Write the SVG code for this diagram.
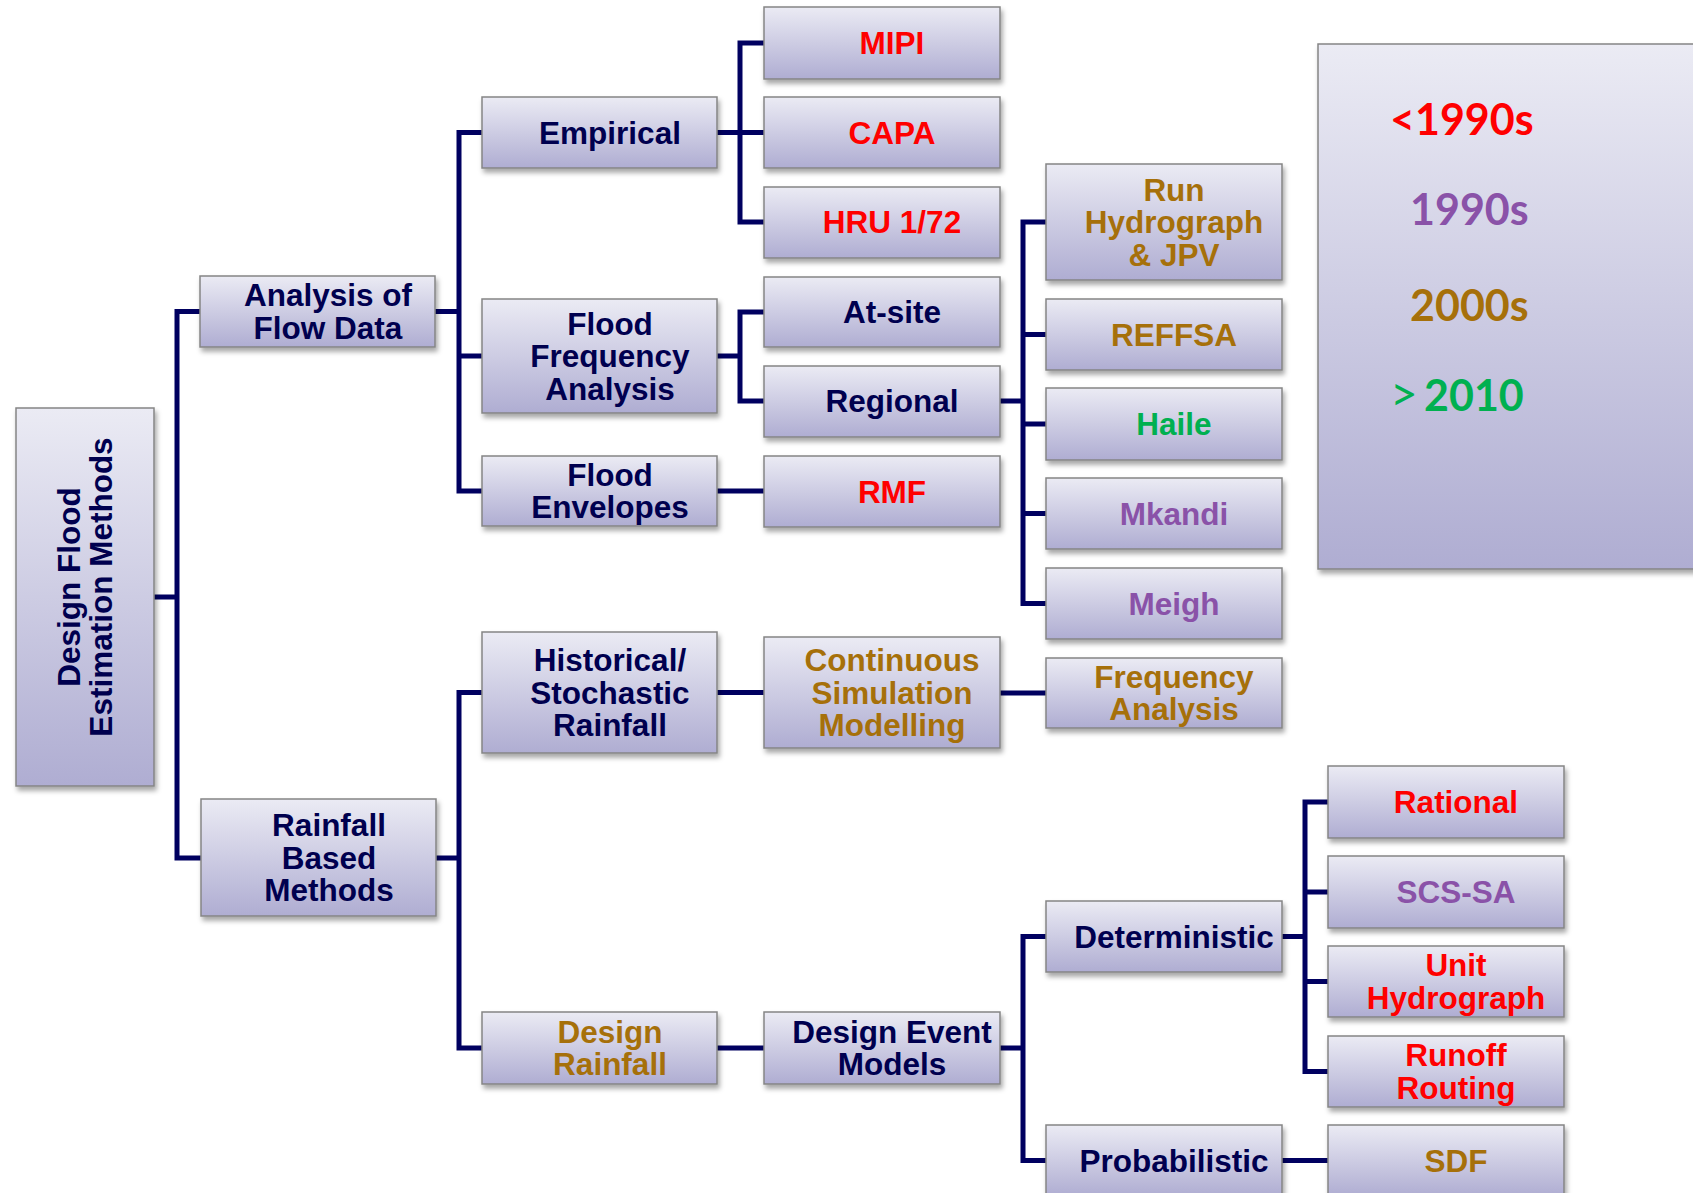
<svg xmlns="http://www.w3.org/2000/svg" width="1693" height="1193" viewBox="0 0 1693 1193">
<defs>
<linearGradient id="g" x1="0" y1="0" x2="0" y2="1">
<stop offset="0" stop-color="#EBEBF4"/>
<stop offset="1" stop-color="#AFADD2"/>
</linearGradient>
<filter id="sh" x="-10%" y="-10%" width="130%" height="140%">
<feDropShadow dx="2" dy="4" stdDeviation="2.5" flood-color="#000" flood-opacity="0.35"/>
</filter>
<style>
.box{fill:url(#g);stroke:#858585;stroke-width:1.5;filter:url(#sh)}
.t{font-family:"Liberation Sans",Arial,sans-serif;font-weight:bold;font-size:31.5px;text-anchor:middle}
.n{fill:#00004F}.r{fill:#FF0000}.o{fill:#A6700A}.gr{fill:#00B050}.p{fill:#8A52A8}
.c{stroke:#000060;stroke-width:5;fill:none;stroke-linejoin:miter}
.lg{font-family:Lato,"Open Sans",sans-serif;font-weight:bold;font-size:43px}
</style>
</defs>
<rect width="1693" height="1193" fill="#FFFFFF"/>
<g id="connectors">
<path class="c" d="M154 597H177M200 311.5H177V858H201"/>
<path class="c" d="M435 311.5H459M482 132.5H459V491H482M459 356H482"/>
<path class="c" d="M436 858H459M482 692.5H459V1048H482"/>
<path class="c" d="M717 132.5H740M764 43H740V222H764M740 132.5H764"/>
<path class="c" d="M717 356H740M764 312H740V401H764"/>
<path class="c" d="M717 491H764"/>
<path class="c" d="M717 692.5H764"/>
<path class="c" d="M717 1048H764"/>
<path class="c" d="M1000 401H1023M1046 222H1023V603.5H1046M1023 334.5H1046M1023 424H1046M1023 513.5H1046"/>
<path class="c" d="M1000 693H1046"/>
<path class="c" d="M1000 1048H1023M1046 936.5H1023V1160.5H1046"/>
<path class="c" d="M1282 936.5H1305M1328 802H1305V1071.5H1328M1305 892H1328M1305 981.5H1328"/>
<path class="c" d="M1282 1160.5H1328"/>
</g>
<g id="dfem"><rect class="box" x="16" y="408" width="138" height="378"/>
<text class="t n" transform="translate(85 587) rotate(-90)"><tspan x="0" y="-5.25">Design Flood</tspan><tspan x="0" y="27.25">Estimation Methods</tspan></text></g>
<g id="analysis"><rect class="box" x="200" y="276" width="235" height="71"/>
<text class="t n"><tspan x="328" y="306.25">Analysis of</tspan><tspan x="328" y="338.75">Flow Data</tspan></text></g>
<g id="rainfall-based"><rect class="box" x="201" y="799" width="235" height="117"/>
<text class="t n"><tspan x="329" y="836">Rainfall</tspan><tspan x="329" y="868.5">Based</tspan><tspan x="329" y="901">Methods</tspan></text></g>
<g id="empirical"><rect class="box" x="482" y="97" width="235" height="71"/>
<text class="t n" x="610" y="143.5">Empirical</text></g>
<g id="ffa"><rect class="box" x="482" y="299" width="235" height="114"/>
<text class="t n"><tspan x="610" y="334.5">Flood</tspan><tspan x="610" y="367">Frequency</tspan><tspan x="610" y="399.5">Analysis</tspan></text></g>
<g id="flood-envelopes"><rect class="box" x="482" y="456" width="235" height="70"/>
<text class="t n"><tspan x="610" y="485.75">Flood</tspan><tspan x="610" y="518.25">Envelopes</tspan></text></g>
<g id="historical"><rect class="box" x="482" y="632" width="235" height="121"/>
<text class="t n"><tspan x="610" y="671">Historical/</tspan><tspan x="610" y="703.5">Stochastic</tspan><tspan x="610" y="736">Rainfall</tspan></text></g>
<g id="design-rainfall"><rect class="box" x="482" y="1012" width="235" height="72"/>
<text class="t o"><tspan x="610" y="1042.75">Design</tspan><tspan x="610" y="1075.25">Rainfall</tspan></text></g>
<g id="mipi"><rect class="box" x="764" y="7" width="236" height="72"/>
<text class="t r" x="892" y="54">MIPI</text></g>
<g id="capa"><rect class="box" x="764" y="97" width="236" height="71"/>
<text class="t r" x="892" y="143.5">CAPA</text></g>
<g id="hru"><rect class="box" x="764" y="187" width="236" height="71"/>
<text class="t r" x="892" y="233">HRU 1/72</text></g>
<g id="at-site"><rect class="box" x="764" y="277" width="236" height="70"/>
<text class="t n" x="892" y="323">At-site</text></g>
<g id="regional"><rect class="box" x="764" y="366" width="236" height="71"/>
<text class="t n" x="892" y="412">Regional</text></g>
<g id="rmf"><rect class="box" x="764" y="456" width="236" height="71"/>
<text class="t r" x="892" y="502.5">RMF</text></g>
<g id="csm"><rect class="box" x="764" y="637" width="236" height="111"/>
<text class="t o"><tspan x="892" y="671">Continuous</tspan><tspan x="892" y="703.5">Simulation</tspan><tspan x="892" y="736">Modelling</tspan></text></g>
<g id="dem"><rect class="box" x="764" y="1012" width="236" height="72"/>
<text class="t n"><tspan x="892" y="1042.75">Design Event</tspan><tspan x="892" y="1075.25">Models</tspan></text></g>
<g id="run-hydrograph"><rect class="box" x="1046" y="164" width="236" height="116"/>
<text class="t o"><tspan x="1174" y="200.5">Run</tspan><tspan x="1174" y="233">Hydrograph</tspan><tspan x="1174" y="265.5">&amp; JPV</tspan></text></g>
<g id="reffsa"><rect class="box" x="1046" y="299" width="236" height="71"/>
<text class="t o" x="1174" y="345.5">REFFSA</text></g>
<g id="haile"><rect class="box" x="1046" y="388" width="236" height="72"/>
<text class="t gr" x="1174" y="435">Haile</text></g>
<g id="mkandi"><rect class="box" x="1046" y="478" width="236" height="71"/>
<text class="t p" x="1174" y="524.5">Mkandi</text></g>
<g id="meigh"><rect class="box" x="1046" y="568" width="236" height="71"/>
<text class="t p" x="1174" y="614.5">Meigh</text></g>
<g id="frequency-analysis"><rect class="box" x="1046" y="658" width="236" height="70"/>
<text class="t o"><tspan x="1174" y="687.75">Frequency</tspan><tspan x="1174" y="720.25">Analysis</tspan></text></g>
<g id="deterministic"><rect class="box" x="1046" y="901" width="236" height="71"/>
<text class="t n" x="1174" y="947.5">Deterministic</text></g>
<g id="probabilistic"><rect class="box" x="1046" y="1125" width="236" height="71"/>
<text class="t n" x="1174" y="1171.5">Probabilistic</text></g>
<g id="rational"><rect class="box" x="1328" y="766" width="236" height="72"/>
<text class="t r" x="1456" y="813">Rational</text></g>
<g id="scs-sa"><rect class="box" x="1328" y="856" width="236" height="72"/>
<text class="t p" x="1456" y="903">SCS-SA</text></g>
<g id="unit-hydrograph"><rect class="box" x="1328" y="946" width="236" height="71"/>
<text class="t r"><tspan x="1456" y="976.25">Unit</tspan><tspan x="1456" y="1008.75">Hydrograph</tspan></text></g>
<g id="runoff-routing"><rect class="box" x="1328" y="1036" width="236" height="71"/>
<text class="t r"><tspan x="1456" y="1066.25">Runoff</tspan><tspan x="1456" y="1098.75">Routing</tspan></text></g>
<g id="sdf"><rect class="box" x="1328" y="1125" width="236" height="71"/>
<text class="t o" x="1456" y="1171.5">SDF</text></g>
<g id="legend"><rect class="box" x="1318" y="44" width="420" height="525"/>
<text class="lg" x="1390" y="135" fill="#FF0000">&lt;1990s</text>
<text class="lg" x="1410" y="225" fill="#8A52A8">1990s</text>
<text class="lg" x="1410" y="321" fill="#A6700A">2000s</text>
<text class="lg" x="1390" y="411" fill="#00B050"><tspan font-weight="normal" font-size="48">&gt;</tspan> <tspan x="1424">2010</tspan></text></g>
</svg>
